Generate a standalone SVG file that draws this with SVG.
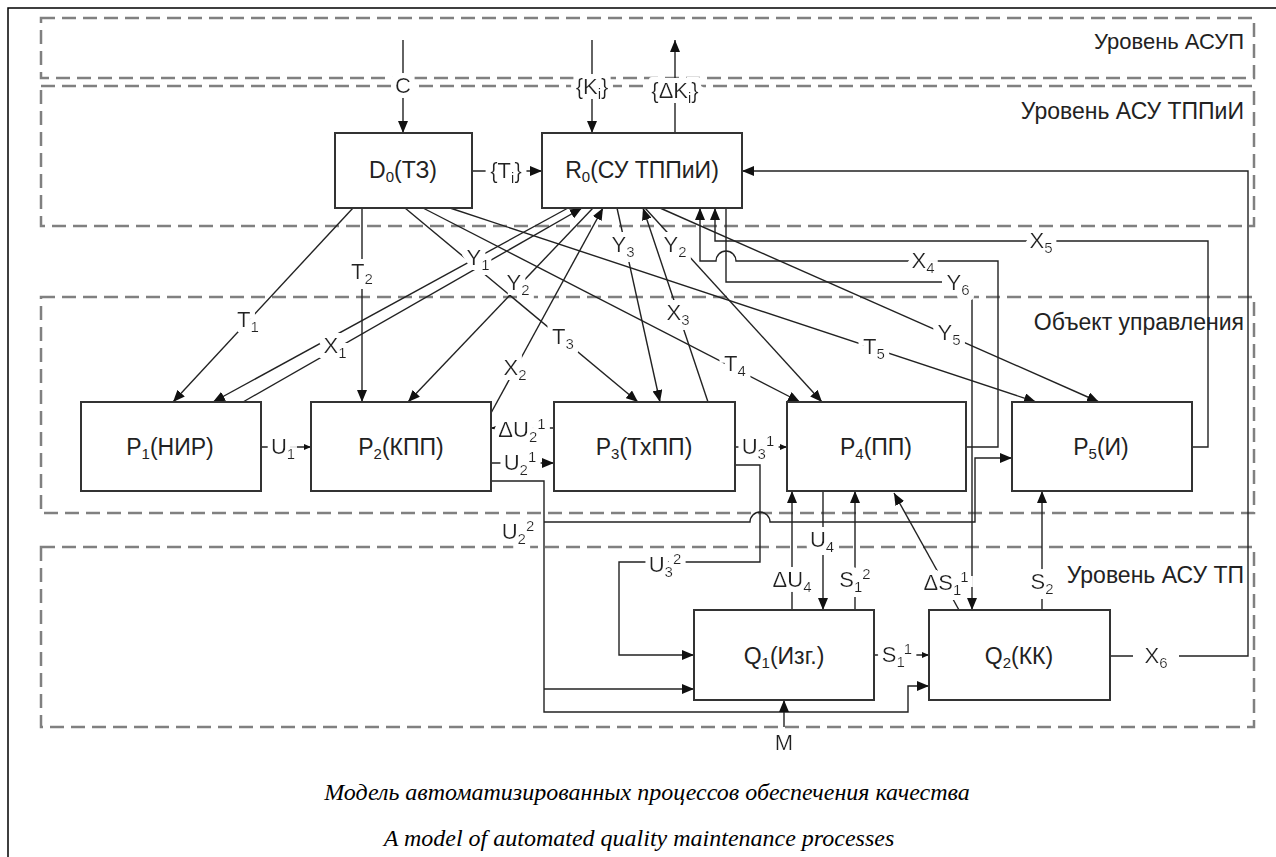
<svg xmlns="http://www.w3.org/2000/svg" width="1276" height="857" viewBox="0 0 1276 857">
<defs>
<style>
.fr{fill:none;stroke:#000;stroke-width:1.5}
.rg{fill:none;stroke:#808080;stroke-width:2.5;stroke-dasharray:14 7}
.ln{fill:none;stroke:#222;stroke-width:1.4}
.bx{fill:#fff;stroke:#333;stroke-width:2}
.t{font-family:"Liberation Sans",Arial,sans-serif;font-size:22px;fill:#222;text-anchor:middle}
.h{filter:url(#hl)}
.sb{font-size:15px}
.bl{font-size:23px}
.bs{font-size:15px}
.rl{text-anchor:end;font-size:23px}
.cap{font-family:"Liberation Serif","Times New Roman",serif;font-style:italic;font-size:24px;fill:#000;text-anchor:middle}
</style>
<filter id="hl" x="-30%" y="-40%" width="160%" height="180%">
<feMorphology in="SourceAlpha" operator="dilate" radius="5" result="d"/>
<feFlood flood-color="#fff"/>
<feComposite in2="d" operator="in"/>
<feMerge><feMergeNode/><feMergeNode in="SourceGraphic"/></feMerge>
</filter>
<marker id="a" viewBox="0 0 12 10" refX="12" refY="5" markerWidth="12" markerHeight="10" markerUnits="userSpaceOnUse" orient="auto"><path d="M0,0L12,5L0,10z" fill="#111"/></marker>
<marker id="s" viewBox="0 0 7 6" refX="7" refY="3" markerWidth="7" markerHeight="6" markerUnits="userSpaceOnUse" orient="auto"><path d="M0,0L7,3L0,6z" fill="#111"/></marker>
</defs>
<rect width="1276" height="857" fill="#fff"/>
<path class="fr" d="M8,857V8H1276"/>
<g id="regions">
<rect class="rg" x="41" y="18" width="1213" height="60"/>
<rect class="rg" x="41" y="86" width="1213" height="140"/>
<rect class="rg" x="41" y="297" width="1213" height="216"/>
<rect class="rg" x="41" y="547" width="1213" height="180"/>
<text class="t rl" x="1244" y="49" style="font-size:22px">Уровень АСУП</text>
<text class="t rl" x="1244" y="119">Уровень АСУ ТППиИ</text>
<text class="t rl" x="1244" y="330">Объект управления</text>
<text class="t rl" x="1244" y="583">Уровень АСУ ТП</text>
</g>
<g id="connectors">
<path class="ln" marker-end="url(#a)" d="M403,40V133"/>
<path class="ln" marker-end="url(#a)" d="M592,40V133"/>
<path class="ln" marker-end="url(#a)" d="M675,133V40"/>
<path class="ln" marker-end="url(#a)" d="M472,171H542"/>
<path class="ln" marker-end="url(#a)" d="M1110,656H1133M1179,656H1248V171H742"/>
<path class="ln" marker-end="url(#a)" d="M353,208L173,402"/>
<path class="ln" marker-end="url(#a)" d="M362,208V402"/>
<path class="ln" marker-end="url(#a)" d="M405,208L638,402"/>
<path class="ln" marker-end="url(#a)" d="M423,208L800,402"/>
<path class="ln" marker-end="url(#a)" d="M450,208L1036,402"/>
<path class="ln" marker-end="url(#a)" d="M568,208L213,402"/>
<path class="ln" marker-end="url(#a)" d="M243,402L582,208"/>
<path class="ln" marker-end="url(#a)" d="M593,208L408,402"/>
<path class="ln" marker-end="url(#a)" d="M491,413L603,208"/>
<path class="ln" marker-end="url(#a)" d="M617,208L660,402"/>
<path class="ln" marker-end="url(#a)" d="M708,402L643,208"/>
<path class="ln" marker-end="url(#a)" d="M645,208L822,402"/>
<path class="ln" marker-end="url(#a)" d="M660,208L1099,402"/>
<path class="ln" marker-end="url(#a)" d="M966,447H998V261H736A10,10 0 0 0 716,261H700V208"/>
<path class="ln" marker-end="url(#a)" d="M1192,447H1208V241H715V208"/>
<path class="ln" marker-end="url(#a)" d="M726,208V282H942M972,298V610"/>
<path class="ln" marker-end="url(#s)" d="M554,428H491"/>
<path class="ln" marker-end="url(#a)" d="M491,463H554"/>
<path class="ln" marker-end="url(#s)" d="M261,447H311"/>
<path class="ln" marker-end="url(#s)" d="M735,447H787"/>
<path class="ln" marker-end="url(#a)" d="M491,481H544V712H908V686H929"/>
<path class="ln" marker-end="url(#a)" d="M544,689H694"/>
<path class="ln" marker-end="url(#a)" d="M544,522H750A10,10 0 0 1 770,522H975V458H1012"/>
<path class="ln" marker-end="url(#a)" d="M735,465H760V562H619V655H694"/>
<path class="ln" marker-end="url(#a)" d="M823,491V610"/>
<path class="ln" marker-end="url(#a)" d="M792,610V491"/>
<path class="ln" marker-end="url(#a)" d="M855,610V491"/>
<path class="ln" marker-end="url(#a)" d="M959,610L894,493"/>
<path class="ln" marker-end="url(#s)" d="M874,655H929"/>
<path class="ln" marker-end="url(#a)" d="M1042,610V491"/>
<path class="ln" marker-end="url(#a)" d="M784,727V700"/>
<text class="t h" x="403" y="93">C</text>
<text class="t h" x="592" y="94">{K<tspan class="sb" dy="5">i</tspan><tspan dy="-5">}</tspan></text>
<text class="t h" x="675" y="98">{ΔK<tspan class="sb" dy="5">i</tspan><tspan dy="-5">}</tspan></text>
<text class="t h" x="506" y="178">{T<tspan class="sb" dy="5">i</tspan><tspan dy="-5">}</tspan></text>
<text class="t h" x="1156" y="663">X<tspan class="sb" dy="5">6</tspan></text>
<text class="t h" x="248" y="327">T<tspan class="sb" dy="5">1</tspan></text>
<text class="t h" x="362" y="279">T<tspan class="sb" dy="5">2</tspan></text>
<text class="t h" x="563" y="344">T<tspan class="sb" dy="5">3</tspan></text>
<text class="t h" x="735" y="371">T<tspan class="sb" dy="5">4</tspan></text>
<text class="t h" x="874" y="354">T<tspan class="sb" dy="5">5</tspan></text>
<text class="t h" x="335" y="353">X<tspan class="sb" dy="5">1</tspan></text>
<text class="t h" x="478" y="265">Y<tspan class="sb" dy="5">1</tspan></text>
<text class="t h" x="518" y="290">Y<tspan class="sb" dy="5">2</tspan></text>
<text class="t h" x="515" y="375">X<tspan class="sb" dy="5">2</tspan></text>
<text class="t h" x="623" y="252">Y<tspan class="sb" dy="5">3</tspan></text>
<text class="t h" x="678" y="320">X<tspan class="sb" dy="5">3</tspan></text>
<text class="t h" x="675" y="252">Y<tspan class="sb" dy="5">2</tspan></text>
<text class="t h" x="949" y="340">Y<tspan class="sb" dy="5">5</tspan></text>
<text class="t h" x="923" y="268">X<tspan class="sb" dy="5">4</tspan></text>
<text class="t h" x="1041" y="248">X<tspan class="sb" dy="5">5</tspan></text>
<text class="t h" x="958" y="290">Y<tspan class="sb" dy="5">6</tspan></text>
<text class="t h" x="522" y="437">ΔU<tspan class="sb" dy="5">2</tspan><tspan class="sb" dy="-13">1</tspan></text>
<text class="t h" x="520" y="470">U<tspan class="sb" dy="5">2</tspan><tspan class="sb" dy="-13">1</tspan></text>
<text class="t h" x="283" y="454">U<tspan class="sb" dy="5">1</tspan></text>
<text class="t h" x="758" y="454">U<tspan class="sb" dy="5">3</tspan><tspan class="sb" dy="-13">1</tspan></text>
<text class="t h" x="518" y="539">U<tspan class="sb" dy="5">2</tspan><tspan class="sb" dy="-13">2</tspan></text>
<text class="t h" x="665" y="572">U<tspan class="sb" dy="5">3</tspan><tspan class="sb" dy="-13">2</tspan></text>
<text class="t h" x="822" y="547">U<tspan class="sb" dy="5">4</tspan></text>
<text class="t h" x="792" y="587">ΔU<tspan class="sb" dy="5">4</tspan></text>
<text class="t h" x="855" y="587">S<tspan class="sb" dy="5">1</tspan><tspan class="sb" dy="-13">2</tspan></text>
<text class="t h" x="946" y="590">ΔS<tspan class="sb" dy="5">1</tspan><tspan class="sb" dy="-13">1</tspan></text>
<text class="t h" x="897" y="662">S<tspan class="sb" dy="5">1</tspan><tspan class="sb" dy="-13">1</tspan></text>
<text class="t h" x="1042" y="589">S<tspan class="sb" dy="5">2</tspan></text>
<text class="t h" x="784" y="750">M</text>
</g>
<g id="D0"><rect class="bx" x="335" y="133" width="137" height="75"/><text class="t bl" x="403" y="178">D<tspan class="bs" dy="4">0</tspan><tspan dy="-4">(ТЗ)</tspan></text></g>
<g id="R0"><rect class="bx" x="542" y="133" width="200" height="75"/><text class="t bl" x="642" y="178">R<tspan class="bs" dy="4">0</tspan><tspan dy="-4">(СУ ТППиИ)</tspan></text></g>
<g id="P1"><rect class="bx" x="81" y="402" width="180" height="89"/><text class="t bl" x="170" y="455">P<tspan class="bs" dy="4">1</tspan><tspan dy="-4">(НИР)</tspan></text></g>
<g id="P2"><rect class="bx" x="311" y="402" width="180" height="89"/><text class="t bl" x="401" y="455">P<tspan class="bs" dy="4">2</tspan><tspan dy="-4">(КПП)</tspan></text></g>
<g id="P3"><rect class="bx" x="554" y="402" width="181" height="89"/><text class="t bl" x="644" y="455">P<tspan class="bs" dy="4">3</tspan><tspan dy="-4">(ТхПП)</tspan></text></g>
<g id="P4"><rect class="bx" x="787" y="402" width="179" height="89"/><text class="t bl" x="876" y="455">P<tspan class="bs" dy="4">4</tspan><tspan dy="-4">(ПП)</tspan></text></g>
<g id="P5"><rect class="bx" x="1012" y="402" width="180" height="89"/><text class="t bl" x="1101" y="455">P<tspan class="bs" dy="4">5</tspan><tspan dy="-4">(И)</tspan></text></g>
<g id="Q1"><rect class="bx" x="694" y="610" width="180" height="90"/><text class="t bl" x="784" y="664">Q<tspan class="bs" dy="4">1</tspan><tspan dy="-4">(Изг.)</tspan></text></g>
<g id="Q2"><rect class="bx" x="929" y="610" width="181" height="90"/><text class="t bl" x="1019" y="664">Q<tspan class="bs" dy="4">2</tspan><tspan dy="-4">(КК)</tspan></text></g>
<g id="caption">
<text class="cap" x="647" y="800">Модель автоматизированных процессов обеспечения качества</text>
<text class="cap" x="639" y="846">A model of automated quality maintenance processes</text>
</g>
</svg>
